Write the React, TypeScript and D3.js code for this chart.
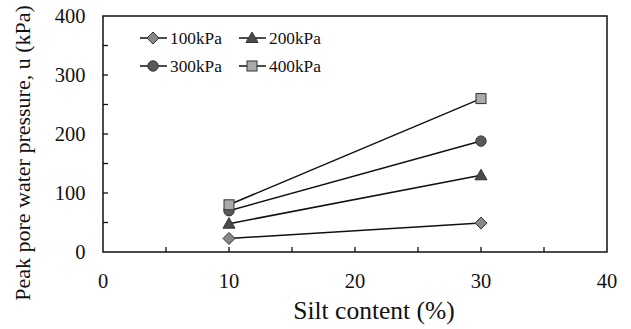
import React from "react";
import * as d3 from "d3";

const silt = [10, 30];
const series = ["100kPa", "200kPa", "300kPa", "400kPa"];
const p100 = [23, 49];
const p200 = [48, 130];
const p300 = [70, 188];
const p400 = [80, 260];
const xTicks = [0, 10, 20, 30, 40];
const yTicks = [0, 100, 200, 300, 400];

const W = 631, H = 329;
const M = { left: 103, top: 16, right: 607, bottom: 252 };
const FONT = "Liberation Serif, DejaVu Serif, serif";

const shapes = ["diamond", "triangle", "circle", "square"];
const fills = ["#888888", "#4a4a4a", "#5a5a5a", "#aaaaaa"];

function Marker({ shape, x, y, fill }: { shape: string; x: number; y: number; fill: string }) {
  const stroke = "#333";
  if (shape === "diamond") {
    const r = 6;
    return <path d={`M${x},${y - r}L${x + r},${y}L${x},${y + r}L${x - r},${y}Z`} fill={fill} stroke={stroke} strokeWidth={1} />;
  }
  if (shape === "triangle") {
    const r = 6;
    return <path d={`M${x},${y - r}L${x + r},${y + r * 0.75}L${x - r},${y + r * 0.75}Z`} fill={fill} stroke={stroke} strokeWidth={1} />;
  }
  if (shape === "circle") {
    return <circle cx={x} cy={y} r={5.2} fill={fill} stroke={stroke} strokeWidth={1} />;
  }
  return <rect x={x - 5} y={y - 5} width={10} height={10} fill={fill} stroke={stroke} strokeWidth={1} />;
}

export default function App() {
  const x = d3.scaleLinear().domain([0, 40]).range([M.left, M.right]);
  const y = d3.scaleLinear().domain([0, 400]).range([M.bottom, M.top]);
  const data = [p100, p200, p300, p400];
  const line = d3.line<number>().x((_, i) => x(silt[i])).y((d) => y(d));
  const minorX = d3.range(5, 40, 5);
  const minorY = d3.range(50, 400, 50);

  const legend = [
    { i: 0, lx: 140, ly: 38 },
    { i: 1, lx: 239, ly: 38 },
    { i: 2, lx: 140, ly: 66 },
    { i: 3, lx: 239, ly: 66 },
  ];

  return (
    <svg width={W} height={H} style={{ position: "absolute", left: 0, top: 0, background: "#fff", fontFamily: FONT }}>
      <rect x={0} y={0} width={W} height={H} fill="#fff" />
      {data.map((d, k) => (
        <path key={"l" + k} d={line(d) || ""} fill="none" stroke="#111" strokeWidth={1.5} />
      ))}
      {data.map((d, k) =>
        d.map((v, i) => <Marker key={`m${k}-${i}`} shape={shapes[k]} x={x(silt[i])} y={y(v)} fill={fills[k]} />)
      )}
      {minorX.map((t) => (
        <line key={"tx" + t} x1={x(t)} x2={x(t)} y1={M.bottom} y2={M.bottom - 5} stroke="#111" strokeWidth={1.3} />
      ))}
      {minorY.map((t) => (
        <line key={"ty" + t} x1={M.left} x2={M.left + 5} y1={y(t)} y2={y(t)} stroke="#111" strokeWidth={1.3} />
      ))}
      <rect x={M.left} y={M.top} width={M.right - M.left} height={M.bottom - M.top} fill="none" stroke="#111" strokeWidth={1.5} />
      {xTicks.map((t) => (
        <text key={"xl" + t} x={x(t)} y={288} textAnchor="middle" fontSize={20.5} fill="#111" style={{ fontFamily: FONT }}>{t}</text>
      ))}
      {yTicks.map((t) => (
        <text key={"yl" + t} x={85.5} y={y(t) + 7.3} textAnchor="end" fontSize={20.5} fill="#111" style={{ fontFamily: FONT }}>{t}</text>
      ))}
      <text x={374} y={319} textAnchor="middle" fontSize={25.5} fill="#111" style={{ fontFamily: FONT }}>Silt content (%)</text>
      <text transform={`translate(30,153) rotate(-90)`} textAnchor="middle" fontSize={22} fill="#111" style={{ fontFamily: FONT }}>Peak pore water pressure, u (kPa)</text>
      {legend.map(({ i, lx, ly }) => (
        <g key={"lg" + i}>
          <line x1={lx} x2={lx + 27} y1={ly} y2={ly} stroke="#111" strokeWidth={1.5} />
          <Marker shape={shapes[i]} x={lx + 13} y={ly} fill={fills[i]} />
          <text x={lx + 30} y={ly + 5.5} fontSize={17.3} fill="#111" style={{ fontFamily: FONT }}>{series[i]}</text>
        </g>
      ))}
    </svg>
  );
}
